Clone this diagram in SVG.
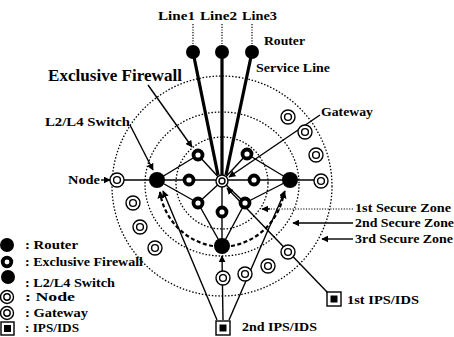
<svg xmlns="http://www.w3.org/2000/svg" width="454" height="337" viewBox="0 0 454 337">
<defs>
<marker id="ah" viewBox="0 0 10 10" refX="9" refY="5" markerWidth="7" markerHeight="7" orient="auto" markerUnits="userSpaceOnUse"><path d="M0,0 L10,5 L0,10 z" fill="#000"/></marker>
<style>
text{font-family:"Liberation Serif","Times New Roman",serif;font-weight:bold;fill:#000;font-size:13px}
.big{font-size:17px}
.zone{fill:none;stroke:#000;stroke-width:1.3;stroke-dasharray:1.5 1.8}
.dash{fill:none;stroke:#000;stroke-width:2.2;stroke-dasharray:4 2.5}
.ln{stroke:#000;stroke-width:1.4;fill:none}
.arr{stroke:#000;stroke-width:1.4;fill:none;marker-end:url(#ah)}
.thick{stroke:#000;stroke-width:3.2;fill:none}
.dot{stroke:#000;stroke-width:1.2;stroke-dasharray:1.2 1.5;fill:none}
.router{fill:#000}
.fw{fill:#fff;stroke:#000;stroke-width:3.8}
.node{fill:#fff;stroke:#000;stroke-width:1.4}
</style>
</defs>
<rect width="454" height="337" fill="#fff"/>

<g id="zones">
<circle class="zone" cx="222" cy="183" r="46"/>
<ellipse class="zone" cx="222" cy="184" rx="77" ry="72"/>
<circle class="zone" cx="222" cy="186" r="110"/>
</g>

<g id="connectors">
<line class="dot" x1="193" y1="24" x2="193" y2="46"/>
<line class="dot" x1="222" y1="24" x2="222" y2="46"/>
<line class="dot" x1="252" y1="24" x2="252" y2="46"/>
<line class="thick" x1="193" y1="52" x2="218" y2="175"/>
<line class="thick" x1="222" y1="52" x2="222" y2="175"/>
<line class="thick" x1="252" y1="52" x2="226" y2="175"/>
<line class="ln" x1="117" y1="180" x2="327" y2="180"/>
<line class="ln" x1="222" y1="181" x2="198" y2="155"/>
<line class="ln" x1="222" y1="181" x2="247" y2="154"/>
<line class="ln" x1="222" y1="181" x2="198" y2="203"/>
<line class="ln" x1="222" y1="181" x2="245" y2="203"/>
<line class="ln" x1="222" y1="181" x2="222" y2="212"/>
<line class="ln" x1="157" y1="180" x2="198" y2="155"/>
<line class="ln" x1="157" y1="180" x2="198" y2="203"/>
<line class="ln" x1="290" y1="180" x2="247" y2="154"/>
<line class="ln" x1="290" y1="180" x2="245" y2="203"/>
<line class="ln" x1="222" y1="246" x2="198" y2="203"/>
<line class="ln" x1="222" y1="246" x2="245" y2="203"/>
<line class="ln" x1="222" y1="246" x2="222" y2="212"/>
<path class="dash" d="M213,246 A64,64 0 0 1 160,192" marker-end="url(#ah)"/>
<path class="dash" d="M231,246 A64,64 0 0 0 284,192" marker-end="url(#ah)"/>
<line class="arr" x1="217" y1="320" x2="163" y2="191"/>
<line class="arr" x1="223" y1="320" x2="222" y2="256"/>
<line class="arr" x1="229" y1="320" x2="285" y2="191"/>
<line class="arr" x1="328" y1="293" x2="227" y2="188"/>
<line class="arr" x1="148" y1="85" x2="192" y2="147"/>
<line class="arr" x1="130" y1="125" x2="153" y2="170"/>
<line class="arr" x1="320" y1="115" x2="229" y2="177"/>
<line class="arr" x1="101" y1="180" x2="110" y2="180"/>
<line class="dot" x1="353" y1="209" x2="268" y2="209"/>
<line class="arr" x1="270" y1="209" x2="262" y2="209"/>
<line class="arr" x1="353" y1="223" x2="293" y2="223"/>
<line class="arr" x1="353" y1="239" x2="322" y2="239"/>
</g>

<g id="routers">
<circle class="router" cx="193" cy="52" r="7"/>
<circle class="router" cx="222" cy="52" r="7"/>
<circle class="router" cx="252" cy="52" r="7"/>
</g>

<g id="switches">
<circle class="router" cx="157" cy="180" r="8"/>
<circle class="router" cx="290" cy="180" r="8"/>
<circle class="router" cx="222" cy="246" r="8"/>
</g>

<g id="firewalls">
<circle class="fw" cx="198" cy="155" r="4.5"/>
<circle class="fw" cx="247" cy="154" r="4.5"/>
<circle class="fw" cx="189" cy="180" r="4.5"/>
<circle class="fw" cx="254" cy="180" r="4.5"/>
<circle class="fw" cx="198" cy="203" r="4.5"/>
<circle class="fw" cx="245" cy="203" r="4.5"/>
<circle class="fw" cx="222" cy="212" r="4.5"/>
</g>

<g id="gateway">
<circle class="node" cx="222" cy="181" r="6"/>
<circle class="node" cx="222" cy="181" r="3"/>
</g>

<g id="nodes">
<g><circle class="node" cx="117" cy="180" r="7"/><circle class="node" cx="117" cy="180" r="3.4"/></g>
<g><circle class="node" cx="133" cy="203" r="7"/><circle class="node" cx="133" cy="203" r="3.4"/></g>
<g><circle class="node" cx="140" cy="227" r="7"/><circle class="node" cx="140" cy="227" r="3.4"/></g>
<g><circle class="node" cx="155" cy="248" r="7"/><circle class="node" cx="155" cy="248" r="3.4"/></g>
<g><circle class="node" cx="223" cy="278" r="7"/><circle class="node" cx="223" cy="278" r="3.4"/></g>
<g><circle class="node" cx="245" cy="274" r="7"/><circle class="node" cx="245" cy="274" r="3.4"/></g>
<g><circle class="node" cx="268" cy="266" r="7"/><circle class="node" cx="268" cy="266" r="3.4"/></g>
<g><circle class="node" cx="288" cy="252" r="7"/><circle class="node" cx="288" cy="252" r="3.4"/></g>
<g><circle class="node" cx="288" cy="117" r="7"/><circle class="node" cx="288" cy="117" r="3.4"/></g>
<g><circle class="node" cx="305" cy="132" r="7"/><circle class="node" cx="305" cy="132" r="3.4"/></g>
<g><circle class="node" cx="316" cy="155" r="7"/><circle class="node" cx="316" cy="155" r="3.4"/></g>
<g><circle class="node" cx="321" cy="181" r="7"/><circle class="node" cx="321" cy="181" r="3.4"/></g>
</g>

<g id="ips1"><rect x="327" y="292" width="14" height="14" fill="#fff" stroke="#000" stroke-width="1.4"/><rect x="330.5" y="295.5" width="7" height="7" fill="#000"/></g>
<g id="ips2"><rect x="216" y="321" width="14" height="14" fill="#fff" stroke="#000" stroke-width="1.4"/><rect x="219.5" y="324.5" width="7" height="7" fill="#000"/></g>

<g id="labels">
<text x="158" y="20" textLength="37" lengthAdjust="spacingAndGlyphs">Line1</text>
<text x="200" y="20" textLength="37" lengthAdjust="spacingAndGlyphs">Line2</text>
<text x="242" y="20" textLength="35" lengthAdjust="spacingAndGlyphs">Line3</text>
<text x="264" y="45" textLength="41" lengthAdjust="spacingAndGlyphs">Router</text>
<text x="256" y="72" textLength="74" lengthAdjust="spacingAndGlyphs">Service Line</text>
<text class="big" x="48" y="81" textLength="134" lengthAdjust="spacingAndGlyphs">Exclusive Firewall</text>
<text x="45" y="126" textLength="85" lengthAdjust="spacingAndGlyphs">L2/L4 Switch</text>
<text x="321" y="116" textLength="52" lengthAdjust="spacingAndGlyphs">Gateway</text>
<text x="68" y="184" textLength="32" lengthAdjust="spacingAndGlyphs">Node</text>
<text x="355" y="212" textLength="96" lengthAdjust="spacingAndGlyphs">1st Secure Zone</text>
<text x="355" y="227" textLength="99" lengthAdjust="spacingAndGlyphs">2nd Secure Zone</text>
<text x="355" y="243" textLength="98" lengthAdjust="spacingAndGlyphs">3rd Secure Zone</text>
<text x="347" y="304" textLength="72" lengthAdjust="spacingAndGlyphs">1st IPS/IDS</text>
<text x="242" y="331" textLength="75" lengthAdjust="spacingAndGlyphs">2nd IPS/IDS</text>
</g>

<g id="legend">
<circle class="router" cx="7" cy="245" r="7"/>
<text x="25" y="249" textLength="53" lengthAdjust="spacingAndGlyphs">: Router</text>
<circle class="fw" cx="7" cy="262" r="4.3"/>
<text x="25" y="266" textLength="118" lengthAdjust="spacingAndGlyphs">: Exclusive Firewall</text>
<circle class="router" cx="8" cy="277" r="7"/>
<text x="25" y="287" textLength="90" lengthAdjust="spacingAndGlyphs">: L2/L4 Switch</text>
<circle class="node" cx="7" cy="297" r="6.5"/><circle class="node" cx="7" cy="297" r="3.2"/>
<text x="25" y="301" textLength="50" lengthAdjust="spacingAndGlyphs">: Node</text>
<circle class="node" cx="7" cy="313" r="6.5"/><circle class="node" cx="7" cy="313" r="3.2"/>
<text x="25" y="317" textLength="63" lengthAdjust="spacingAndGlyphs">: Gateway</text>
<rect x="1" y="322" width="13" height="13" fill="#fff" stroke="#000" stroke-width="1.4"/><rect x="4" y="325" width="7" height="7" fill="#000"/>
<text x="25" y="332" textLength="54" lengthAdjust="spacingAndGlyphs">: IPS/IDS</text>
</g>
</svg>
